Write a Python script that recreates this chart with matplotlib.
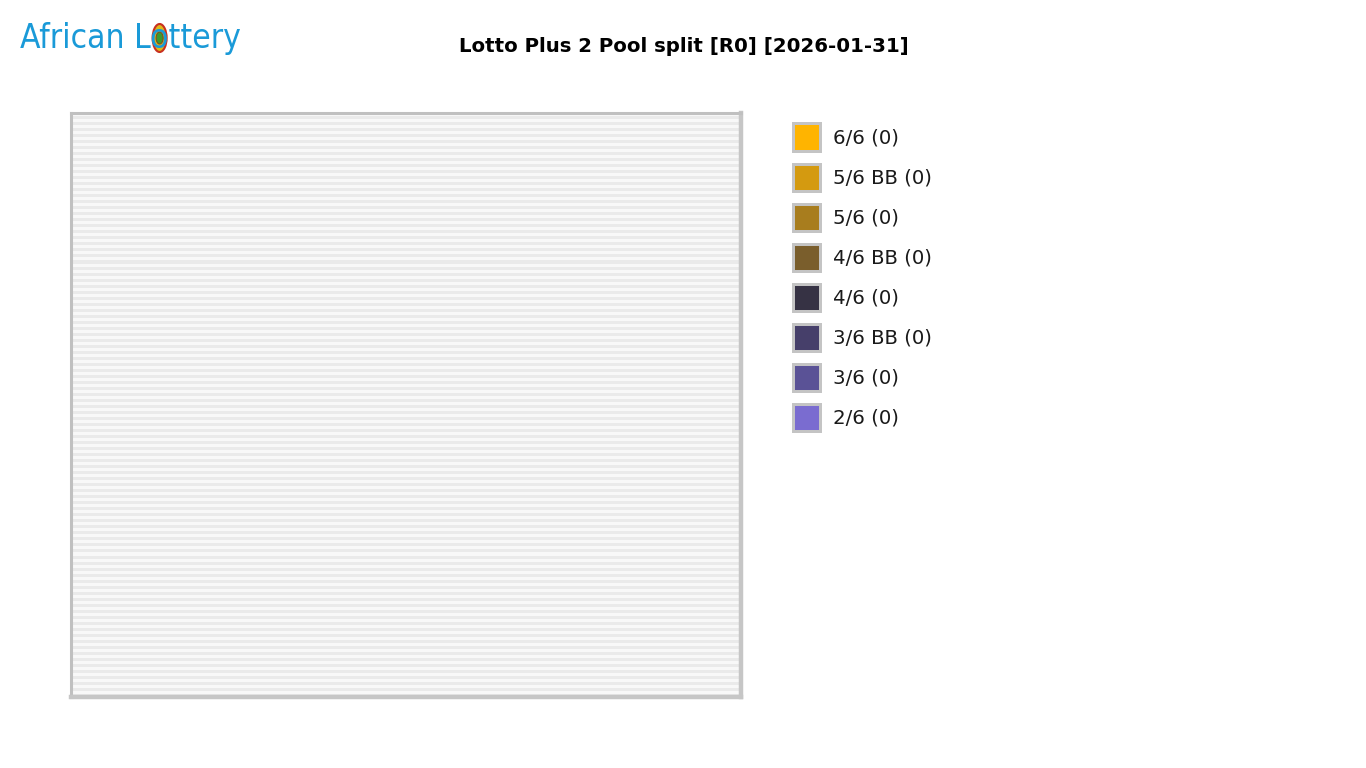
import numpy as np
import matplotlib
matplotlib.use("Agg")
import matplotlib.pyplot as plt
from matplotlib.patches import Patch, Ellipse

# pool split data (all divisions empty on this draw)
divisions = ["6/6", "5/6 BB", "5/6", "4/6 BB", "4/6", "3/6 BB", "3/6", "2/6"]
amounts = [0, 0, 0, 0, 0, 0, 0, 0]
colors = ["#ffb400", "#d49a10", "#a87d1e", "#7a5e2c", "#363244", "#463f6a", "#5a5296", "#7a6cd0"]
title = "Lotto Plus 2 Pool split [R0] [2026-01-31]"

W, H = 1366, 768
fig = plt.figure(figsize=(W / 100, H / 100), dpi=100)
fig.patch.set_facecolor("white")

# plot area with striped background
box = [71 / W, 1 - 697 / H, 670 / W, 584 / H]
bg = fig.add_axes(box, zorder=0)
n = 97
stripes = np.tile([0.97, 0.915], n).reshape(-1, 1)
bg.imshow(stripes, cmap="gray", vmin=0, vmax=1, aspect="auto", interpolation="nearest",
          extent=[0, 1, 0, 1])
bg.set_xlim(0, 1)
bg.set_ylim(0, 1)
bg.set_xticks([])
bg.set_yticks([])
for side in ["top", "left"]:
    bg.spines[side].set_color("#c0c0c0")
    bg.spines[side].set_linewidth(2.2)
for side in ["bottom", "right"]:
    bg.spines[side].set_color("#c6c6c6")
    bg.spines[side].set_linewidth(3.2)

ax = fig.add_axes(box, zorder=1)
ax.set_facecolor("none")
ax.axis("off")
if sum(amounts) > 0:
    ax.pie(amounts, colors=colors, startangle=90, counterclock=False)
    ax.axis("equal")

# legend
fs = 14.2
handles = [Patch(facecolor=c, edgecolor="#c4c4c4", linewidth=2.16) for c in colors]
labels = [f"{d} ({a})" for d, a in zip(divisions, amounts)]
leg = fig.legend(handles, labels, loc="upper left", bbox_to_anchor=(792.5 / W, 1 - 123.5 / H),
                 frameon=False, borderpad=0, borderaxespad=0,
                 handlelength=1.37, handleheight=1.73, labelspacing=0.66, handletextpad=0.7,
                 prop={"family": "DejaVu Sans", "size": fs})
for t in leg.get_texts():
    t.set_color("#1a1a1a")

fig.text(684 / W, 1 - 46 / H, title, ha="center", va="center", fontsize=14.2,
         fontweight="bold", family="DejaVu Sans")

# logo, scaled to fit its 220 px width
logo_font = dict(family=["DejaVu Sans"], fontstretch="condensed", color="#1a9ad8")
logo = fig.text(20 / W, 1 - 48 / H, "African Lottery", ha="left", va="baseline",
                fontsize=30, **logo_font)
r = fig.canvas.get_renderer()
w = logo.get_window_extent(r).width
lfs = 30 * 220 / w
logo.set_fontsize(lfs)
edges = []
for part in ["African L", "African Lo"]:
    t = fig.text(20 / W, 1 - 48 / H, part, ha="left", va="baseline", fontsize=lfs, **logo_font)
    edges.append(t.get_window_extent(r).x1)
    t.remove()
ox = (edges[0] + edges[1]) / 2
fig.patches.append(Ellipse((ox / W, 1 - 38 / H), 14 / W, 28 / H, transform=fig.transFigure,
                           facecolor="#e0b818", edgecolor="#c83020", linewidth=1.5))
fig.patches.append(Ellipse((ox / W, 1 - 38 / H), 7 / W, 12 / H, transform=fig.transFigure,
                           facecolor="#3a9a30", edgecolor="#7a5020", linewidth=0.8))

fig.savefig("out.png", dpi=100)
